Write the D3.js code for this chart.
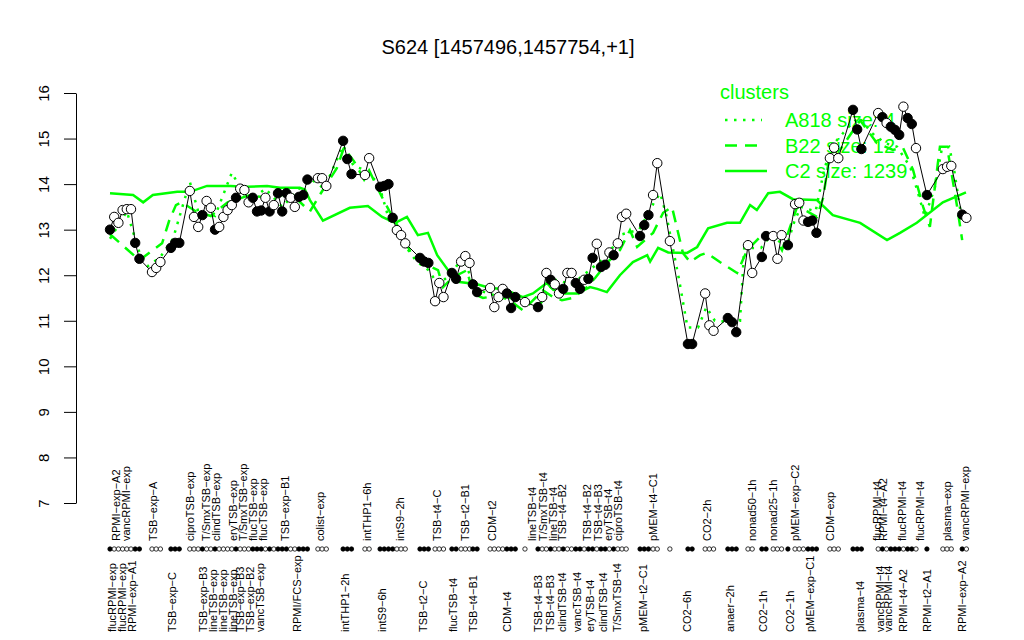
<!DOCTYPE html>
<html>
<head>
<meta charset="utf-8">
<script src="https://cdn.jsdelivr.net/npm/d3@7/dist/d3.min.js"></script>
<style>
  body { margin: 0; background: #fff; }
  text { font-family: "Liberation Sans", Arial, Helvetica, sans-serif; }
</style>
</head>
<body>
<div class="chart"></div>
<script>
// sample groups: start position (sample slots), values and fill pattern (F = filled, O = open)
var groupStart = [0, 10, 14.5, 19, 22, 45, 49.5, 55.5, 60.7, 64.3, 68.3, 73.8, 77.4, 81.4, 83.6, 86.4,
  90.5, 94.5, 98.8, 101.9, 126.2, 129.3, 133.3, 137.6, 141.7, 147.1, 151.9, 155.2, 157.9, 161.4,
  163.1, 166.2, 171.4, 176.9, 182.9, 194.5, 198.3, 202.9];

var groupValues = [
  [13.0, 13.28, 13.15, 13.43, 13.45, 13.45, 12.71, 12.36],
  [12.07, 12.16, 12.29],
  [12.6, 12.71, 12.71],
  [13.85, 13.28, 13.06],
  [13.32, 13.63, 13.48, 13.0, 13.06, 13.28, 13.43, 13.54, 13.7, 13.9, 13.87, 13.6, 13.7, 13.4, 13.42,
   13.7, 13.4, 13.54, 13.8, 13.4, 13.8, 13.7, 13.5],
  [13.72, 13.76, 14.1],
  [14.13, 14.13, 13.96],
  [14.95, 14.55, 14.22],
  [14.2, 14.57],
  [13.94, 13.96, 14.0, 13.26],
  [12.99, 12.88, 12.7],
  [12.38, 12.3, 12.27],
  [11.43, 11.83, 11.52],
  [12.05, 11.92],
  [12.3, 12.42, 12.27],
  [11.8, 11.63],
  [11.72, 11.3, 11.52, 11.7],
  [11.6, 11.28, 11.52],
  [11.41],
  [11.3, 11.52, 12.05, 11.9, 11.8, 11.6, 11.7, 12.05, 12.05, 11.83, 11.7, 11.9, 11.92, 12.38, 12.69,
   12.18, 12.23, 12.5, 12.44, 12.7, 13.28, 13.35],
  [12.86, 13.1, 13.32],
  [13.76, 14.46],
  [12.75],
  [10.49, 10.49],
  [11.6, 10.9, 10.78],
  [11.06, 10.97, 10.75],
  [12.66, 12.05],
  [12.4, 12.86],
  [12.86, 12.36, 12.88],
  [12.66],
  [13.56, 13.59, 13.2],
  [13.17, 13.2, 12.93],
  [14.57, 14.8, 14.57],
  [15.63, 15.2, 14.77],
  [15.56, 15.47, 15.34, 15.26, 15.19, 15.08, 15.7, 15.45, 15.32, 14.79],
  [13.76],
  [14.33, 14.38, 14.4],
  [13.33, 13.26]
];

var groupFill = ["FOOOOOFF", "OOO", "FFF", "OOO", "FOOFOOOOFOOOFFFOFOFFFOO", "FFF", "OOO", "FFF", "OO",
  "FFFF", "OOO", "FFF", "OOO", "FF", "OOO", "FF", "OOOO", "FFF", "O", "FOOFOOFOOFFOFFOFFOFOOO", "FFF",
  "OO", "O", "FF", "OOO", "FFF", "OO", "FF", "OOO", "F", "OOO", "FFF", "OOO", "FFF", "OFOFFFOFFO", "F",
  "OOO", "FO"];

// sample labels above and below the marker row
var topLabels = ["RPMI\u2212exp\u2212A2", "vancRPMI\u2212exp", "TSB\u2212exp\u2212A", "ciproTSB\u2212exp",
  "T/SmxTSB\u2212exp", "clindTSB\u2212exp", "eryTSB\u2212exp", "T/SmxTSB\u2212exp", "flucTSB\u2212exp",
  "flucTSB\u2212exp", "TSB\u2212exp\u2212B1", "colist\u2212exp", "intTHP1\u22126h", "intS9\u22122h",
  "TSB\u2212t4\u2212C", "TSB\u2212t2\u2212B1", "CDM\u2212t2", "lineTSB\u2212t4", "T/SmxTSB\u2212t4",
  "lineTSB\u2212t4", "TSB\u2212t4\u2212B2", "TSB\u2212t4\u2212B2", "TSB\u2212t4\u2212B3", "eryTSB\u2212t4",
  "ciproTSB\u2212t4", "pMEM\u2212t4\u2212C1", "CO2\u22122h", "nonad50\u22121h", "nonad25\u22121h",
  "pMEM\u2212exp\u2212C2", "CDM\u2212exp", "flucRPMI\u2212t4", "RPMI\u2212t4\u2212A2", "flucRPMI\u2212t4",
  "flucRPMI\u2212t4", "plasma\u2212exp", "vancRPMI\u2212exp"];
var topPos = [1.4, 3.8, 10.2, 19, 22.9, 25.2, 29.3, 31.7, 34, 36.4, 41.7, 50, 61.2, 69, 77.9, 84.5, 91,
  100.5, 103.1, 105.5, 107.6, 113.6, 116.2, 118.6, 121, 129.3, 142.1, 152.9, 157.9, 163.1, 171.4,
  182.6, 184, 188.6, 192.9, 199.3, 203.6];

var bottomLabels = ["flucRPMI\u2212exp", "flucRPMI\u2212exp", "RPMI\u2212exp\u2212A1", "TSB\u2212exp\u2212C",
  "TSB\u2212exp\u2212B3", "lineTSB\u2212exp", "lineTSB\u2212exp", "lineTSB\u2212exp", "TSB\u2212exp\u2212B3",
  "TSB\u2212exp\u2212B2", "vancTSB\u2212exp", "RPMI/FCS\u2212exp", "intTHP1\u22122h", "intS9\u22126h",
  "TSB\u2212t2\u2212C", "flucTSB\u2212t4", "TSB\u2212t4\u2212B1", "CDM\u2212t4", "TSB\u2212t4\u2212B3",
  "TSB\u2212t4\u2212B3", "clindTSB\u2212t4", "vancTSB\u2212t4", "eryTSB\u2212t4", "clindTSB\u2212t4",
  "T/SmxTSB\u2212t4", "pMEM\u2212t2\u2212C1", "CO2\u22126h", "anaer\u22122h", "CO2\u22121h", "CO2\u22121h",
  "pMEM\u2212exp\u2212C1", "plasma\u2212t4", "vancRPMI\u2212t4", "vancRPMI\u2212t4", "RPMI\u2212t4\u2212A2",
  "RPMI\u2212t2\u2212A1", "RPMI\u2212exp\u2212A2"];
var bottomPos = [0.5, 2.9, 5.2, 14.8, 22.1, 24.5, 26.9, 29.3, 31, 33.3, 35.7, 44.5, 56, 64.8, 74.5,
  81.7, 86.4, 94.5, 101.9, 104.8, 107.6, 111.2, 114.3, 117.4, 120.7, 126.9, 137.4, 147.6, 155.5,
  161.9, 166.7, 178.6, 183.3, 185.2, 188.8, 194.5, 202.9];

// cluster profiles (position, value)
var clusterAPos = [0, 4, 7, 9, 12, 15, 19, 21, 25, 29, 33, 37, 41, 45, 48, 51, 55.5, 58, 61, 64, 66.5,
  69, 73, 76, 78, 81, 84, 87, 90, 94, 98, 102, 106, 110, 114, 118, 122, 126, 129.5, 131, 132.5, 134,
  135.5, 137.5, 140, 142, 144, 147, 150, 151, 155, 157.5, 161, 163, 164.5, 168, 170, 171.7, 175.8,
  178.3, 181.4, 184.5, 187.4, 190.5, 192.4, 194, 196.4, 198, 199.8, 201, 202.5];
var clusterAVal = [12.8, 13.4, 12.5, 12.2, 12.4, 12.8, 14.05, 13.4, 13.3, 14.25, 13.6, 13.9, 13.5, 13.9,
  14.1, 13.9, 14.85, 14.4, 14.3, 14.0, 13.2, 12.8, 12.3, 12.1, 11.8, 12.0, 12.4, 11.7, 11.6, 11.5, 11.5,
  11.3, 11.9, 11.8, 12.1, 12.4, 12.9, 13.0, 13.59, 13.8, 13.3, 12.6, 11.9, 10.85, 10.85, 11.3, 11.0,
  10.98, 11.0, 12.6, 12.6, 12.9, 12.6, 13.2, 13.5, 13.4, 14.3, 14.82, 15.25, 15.47, 15.12, 14.9, 14.82,
  14.38, 13.8, 13.28, 13.93, 14.75, 14.82, 14.3, 13.4];

var clusterBPos = [0, 7, 12.4, 14.1, 15.7, 17, 20.5, 24, 28, 33, 38, 43, 47.6, 50.2, 54, 55.7, 58.1,
  60.5, 61.7, 64.5, 66.4, 68.8, 71.9, 75.5, 78.1, 79.3, 81.7, 85, 86.4, 88.8, 92.1, 95.2, 98.3, 103.1,
  105.5, 107.6, 110.2, 113.6, 115.5, 118.3, 121.4, 123.8, 125.5, 129.3, 131.7, 133.8, 136.4, 138.1,
  140.5, 142.1, 145.2, 149.3, 151.7, 154.8, 158.3, 160, 163.6, 166, 168.3, 169.8, 171.4, 173.8, 178.6,
  182.6, 186.4, 188.8, 191.2, 193.6, 195.2, 197.6, 199.3, 201.7, 202.9];
var clusterBVal = [12.9, 12.33, 12.7, 13.2, 13.54, 13.6, 13.4, 13.3, 13.6, 13.75, 13.7, 13.8, 13.4, 13.8,
  14.35, 14.8, 14.5, 14.1, 14.3, 13.76, 13.43, 13.03, 12.44, 12.22, 12.11, 11.74, 11.96, 12.11, 11.6,
  11.5, 11.55, 11.45, 11.23, 11.67, 11.52, 11.45, 11.5, 11.74, 11.94, 12.27, 12.55, 12.99, 12.62, 12.93,
  13.37, 13.5, 12.49, 12.29, 12.44, 12.49, 12.29, 12.05, 12.55, 12.84, 12.84, 12.55, 13.5, 13.4, 13.28,
  13.7, 14.68, 14.75, 15.4, 14.9, 14.75, 14.8, 14.31, 13.5, 13.06, 14.82, 14.82, 13.5, 12.77];

var clusterCPos = [0, 5.5, 7.9, 10.2, 16, 19, 23.1, 28.6, 32.6, 37.4, 40.5, 45.2, 46.4, 47.6, 50.7,
  57.1, 61.4, 64.8, 67.9, 70.7, 73.3, 75.7, 77.9, 80.5, 83.3, 87.4, 90.5, 93.6, 98.3, 100.7, 104,
  105.5, 107.9, 111.2, 114.3, 116, 118.3, 121.4, 124.5, 127.9, 128.6, 130.5, 132.9, 137.4, 139.8,
  142.4, 146.9, 150, 152.4, 154, 156.7, 159.5, 162.6, 168.3, 172.1, 178.6, 185, 188.1, 192.1, 198.3,
  203.8];
var clusterCVal = [13.8, 13.76, 13.6, 13.76, 13.83, 13.83, 13.96, 13.96, 13.94, 13.96, 13.92, 13.92,
  13.88, 13.65, 13.2, 13.48, 13.52, 13.28, 13.15, 13.28, 12.88, 12.93, 12.44, 12.11, 11.85, 11.8,
  11.72, 11.7, 11.52, 11.6, 11.83, 11.68, 11.6, 11.6, 11.74, 11.7, 11.63, 12.0, 12.29, 12.44, 12.3,
  12.6, 12.5, 12.49, 12.62, 13.03, 13.15, 13.15, 13.54, 13.43, 13.8, 13.83, 13.67, 13.65, 13.32, 13.15,
  12.77, 12.93, 13.15, 13.6, 13.82];

var legendNames = ["A818 size: 4", "B22 size: 12", "C2 size: 1239"];
var legendDash = ["2.5,6.5", "12,8", null];
var yTicks = [7, 8, 9, 10, 11, 12, 13, 14, 15, 16];

var W = 1024, H = 640;
var GREEN = "#00ff00";

var svg = d3.select(".chart").append("svg")
    .attr("width", W)
    .attr("height", H);

var x = d3.scaleLinear().domain([0, 203.9]).range([110, 966.4]);
var y = d3.scaleLinear().domain([7, 16]).range([503, 93]);

// flatten the groups into samples
var samples = [];
groupStart.forEach(function (s, g) {
  groupValues[g].forEach(function (v, i) {
    samples.push({pos: s + i, value: v, filled: groupFill[g][i] === "F"});
  });
});

// title
svg.append("text")
    .attr("x", 508)
    .attr("y", 54)
    .attr("text-anchor", "middle")
    .style("font-size", "20px")
    .text("S624 [1457496,1457754,+1]");

// y axis
var yAxis = d3.axisLeft(y).tickValues(yTicks).tickSize(12).tickSizeOuter(0);
var gy = svg.append("g")
    .attr("transform", "translate(76,0)")
    .call(yAxis);
gy.select(".domain").attr("stroke", "#000");
gy.selectAll(".tick line").attr("stroke", "#000");
gy.selectAll(".tick text")
    .attr("x", null)
    .attr("dy", null)
    .attr("text-anchor", "middle")
    .attr("transform", "translate(-27,0) rotate(-90)")
    .style("font-size", "15px")
    .style("font-family", "'Liberation Sans', Arial, sans-serif")
    .attr("fill", "#000");

// cluster profiles
function clusterLine(posArr, valArr) {
  return d3.line()
    .x(function (d, i) { return x(posArr[i]); })
    .y(function (d, i) { return y(valArr[i]); })(valArr);
}
var clusters = [[clusterAPos, clusterAVal], [clusterBPos, clusterBVal], [clusterCPos, clusterCVal]];
clusters.forEach(function (c, i) {
  svg.append("path")
      .attr("d", clusterLine(c[0], c[1]))
      .attr("fill", "none")
      .attr("stroke", GREEN)
      .attr("stroke-width", 2.5)
      .attr("stroke-dasharray", legendDash[i]);
});

// legend
var legend = svg.append("g").attr("class", "legend");
legend.append("text")
    .attr("x", 720)
    .attr("y", 99)
    .attr("fill", GREEN)
    .style("font-size", "20px")
    .text("clusters");
legendNames.forEach(function (name, i) {
  var ly = 120 + i * 25.5;
  legend.append("line")
      .attr("x1", 725).attr("x2", i === 2 ? 767 : 762)
      .attr("y1", ly).attr("y2", ly)
      .attr("stroke", GREEN)
      .attr("stroke-width", 2.5)
      .attr("stroke-dasharray", legendDash[i]);
  legend.append("text")
      .attr("x", 785)
      .attr("y", ly + 7)
      .attr("fill", GREEN)
      .style("font-size", "20px")
      .text(name);
});

// expression profile
svg.append("path")
    .datum(samples)
    .attr("fill", "none")
    .attr("stroke", "#000")
    .attr("stroke-width", 1)
    .attr("d", d3.line()
      .x(function (d) { return x(d.pos); })
      .y(function (d) { return y(d.value); }));

svg.selectAll(".dot")
    .data(samples)
    .enter().append("circle")
    .attr("class", "dot")
    .attr("r", 4.7)
    .attr("cx", function (d) { return x(d.pos); })
    .attr("cy", function (d) { return y(d.value); })
    .attr("fill", function (d) { return d.filled ? "#000" : "#fff"; })
    .attr("stroke", "#000")
    .attr("stroke-width", 1);

// marker row
svg.selectAll(".marker")
    .data(samples)
    .enter().append("circle")
    .attr("class", "marker")
    .attr("r", 2.2)
    .attr("cx", function (d) { return x(d.pos); })
    .attr("cy", 549)
    .attr("fill", function (d) { return d.filled ? "#000" : "#fff"; })
    .attr("stroke", "#000")
    .attr("stroke-width", 0.8);

// sample labels
function drawLabels(names, pos, baseY) {
  svg.append("g").selectAll("text")
    .data(names)
    .enter().append("text")
    .attr("transform", function (d, i) {
      return "translate(" + x(pos[i]) + "," + baseY + ") rotate(-90)";
    })
    .attr("dy", "0.35em")
    .attr("text-anchor", "start")
    .style("font-size", "11px")
    .text(function (d) { return d; });
}
drawLabels(topLabels, topPos, 541);
drawLabels(bottomLabels, bottomPos, 632);
</script>
</body>
</html>
